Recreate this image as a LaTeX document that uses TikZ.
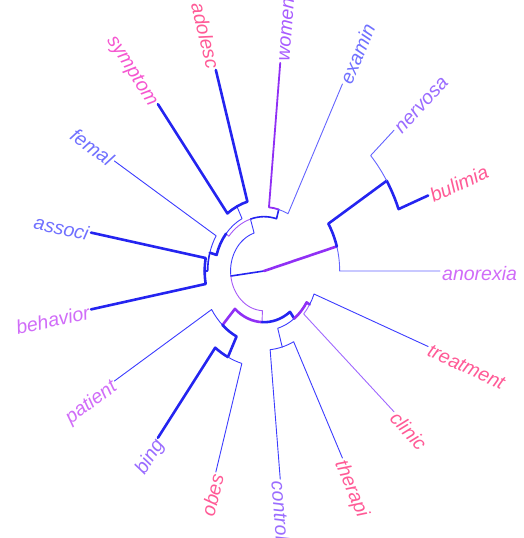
\documentclass[tikz,border=0pt]{standalone}
\usepackage{fontspec}
\setmainfont{Liberation Sans}

% store angle/radius of a tree node and place a named coordinate there
\newcommand\setnode[3]{%
  \expandafter\edef\csname nodeang#1\endcsname{#2}%
  \expandafter\edef\csname noderad#1\endcsname{#3}%
  \coordinate (#1) at (#2:#3);}

% inner node: angle is the mean of its two children
\newcommand\joinnode[4]{%
  \pgfmathsetmacro\tmpang{(\csname nodeang#2\endcsname+\csname nodeang#3\endcsname)/2}%
  \setnode{#1}{\tmpang}{#4}}

% fan edge: arc at the parent radius, then radial segment to the child
\newcommand\linkto[3]{%
  \pgfmathsetmacro\pa{\csname nodeang#2\endcsname}%
  \pgfmathsetmacro\ca{\csname nodeang#3\endcsname}%
  \pgfmathsetmacro\prx{\csname noderad#2\endcsname*176}%
  \pgfmathsetmacro\pry{\csname noderad#2\endcsname*209}%
  \draw[#1] (#2) arc[start angle=\pa, end angle=\ca, x radius=\prx pt, y radius=\pry pt] -- (#3);}

% tip of the tree with its rotated label
\newcommand\leaf[4]{%
  \pgfmathsetmacro\leafang{#2*360/17}%
  \setnode{#1}{\leafang}{1}%
  \pgfmathsetmacro\labrot{atan2(209*sin(\leafang),176*cos(\leafang))}%
  \pgfmathtruncatemacro\leftside{(\leafang>90)&&(\leafang<270)}%
  \ifnum\leftside=1
    \pgfmathsetmacro\labrot{\labrot+180}%
    \node[leaflabel,text=#4,rotate=\labrot,anchor=north east] (lab#1) at (#1) {#3};%
  \else
    \node[leaflabel,text=#4,rotate=\labrot,anchor=north west] (lab#1) at (#1) {#3};%
  \fi}

\definecolor{cblue}{HTML}{2424F0}
\definecolor{cthinblue}{HTML}{3C3CFF}
\definecolor{clightblue}{HTML}{6464FF}
\definecolor{cpurple}{HTML}{9030F5}
\definecolor{clilac}{HTML}{A068FF}

\definecolor{lviolet}{HTML}{D06CF8}
\definecolor{lpink}{HTML}{FF5A96}
\definecolor{lmagenta}{HTML}{F556D0}
\definecolor{llavender}{HTML}{9A6CFF}
\definecolor{lperi}{HTML}{7070FF}
\definecolor{lwomen}{HTML}{A85CFF}

\tikzset{
  thickblue/.style={draw=cblue, line width=2.6pt},
  medblue/.style={draw=cblue, line width=1.6pt},
  thinblue/.style={draw=cthinblue, line width=0.9pt},
  lightblue/.style={draw=clightblue, line width=0.9pt},
  thickpurple/.style={draw=cpurple, line width=2.6pt},
  medpurple/.style={draw=cpurple, line width=1.8pt},
  thinpurple/.style={draw=cpurple!80, line width=0.9pt},
  lilac/.style={draw=clilac, line width=0.9pt},
  leaflabel/.style={font=\fontsize{19.5}{20}\selectfont\itshape,
    inner xsep=2pt, inner ysep=0pt, text height=8.8pt, text depth=6pt}
}

\begin{document}
\begin{tikzpicture}[x={(176pt,0pt)}, y={(0pt,209pt)}, line cap=round, line join=round]
\useasboundingbox (-264pt,-267pt) rectangle (260pt,271pt);
\clip (-264pt,-267pt) rectangle (260pt,271pt);

% tips
\leaf{anorexia}{0}{anorexia}{lviolet}
\leaf{bulimia}{1}{bulimia}{lpink}
\leaf{nervosa}{2}{nervosa}{llavender}
\leaf{examin}{3}{examin}{lperi}
\leaf{women}{4}{women}{lwomen}
\leaf{adolesc}{5}{adolesc}{lpink}
\leaf{symptom}{6}{symptom}{lmagenta}
\leaf{femal}{7}{femal}{lperi}
\leaf{associ}{8}{associ}{lperi}
\leaf{behavior}{9}{behavior}{lviolet}
\leaf{patient}{10}{patient}{lviolet}
\leaf{bing}{11}{bing}{llavender}
\leaf{obes}{12}{obes}{lpink}
\leaf{control}{13}{control}{llavender}
\leaf{therapi}{14}{therapi}{lpink}
\leaf{clinic}{15}{clinic}{lpink}
\leaf{treatment}{16}{treatment}{lpink}

% inner nodes
\joinnode{nAB}{bulimia}{nervosa}{0.82}
\joinnode{nA}{anorexia}{nAB}{0.43}
\joinnode{nWE}{examin}{women}{0.306}
\joinnode{nSA}{adolesc}{symptom}{0.345}
\joinnode{nAsBe}{associ}{behavior}{0.337}
\joinnode{nFA}{femal}{nAsBe}{0.32}
\joinnode{nP}{nSA}{nFA}{0.28}
\joinnode{nN1}{nWE}{nP}{0.26}
\joinnode{nN4}{bing}{obes}{0.46}
\joinnode{nN3}{patient}{nN4}{0.35}
\joinnode{nN5}{control}{therapi}{0.378}
\joinnode{nN8}{clinic}{treatment}{0.305}
\joinnode{nN7}{nN5}{nN8}{0.285}
\joinnode{nN2}{nN3}{nN7}{0.245}
\joinnode{nB}{nN1}{nN2}{0.19}
\setnode{root}{0}{0}

% edges
\draw[medblue] (root) -- (nB);
\draw[thickpurple] (root) -- (nA);
\linkto{lightblue}{nA}{anorexia}
\linkto{thickblue}{nA}{nAB}
\linkto{thickblue}{nAB}{bulimia}
\linkto{lightblue}{nAB}{nervosa}
\linkto{thinblue}{nB}{nN1}
\linkto{thinpurple}{nB}{nN2}
\linkto{medblue}{nN1}{nWE}
\linkto{thinpurple}{nN1}{nP}
\linkto{medpurple}{nWE}{women}
\linkto{lightblue}{nWE}{examin}
\linkto{thinblue}{nP}{nSA}
\linkto{thickblue}{nP}{nFA}
\linkto{thickblue}{nSA}{adolesc}
\linkto{thickblue}{nSA}{symptom}
\linkto{thinblue}{nFA}{femal}
\linkto{medblue}{nFA}{nAsBe}
\linkto{thickblue}{nAsBe}{associ}
\linkto{thickblue}{nAsBe}{behavior}
\linkto{thickpurple}{nN2}{nN3}
\linkto{thickblue}{nN2}{nN7}
\linkto{thinblue}{nN3}{patient}
\linkto{thickblue}{nN3}{nN4}
\linkto{thickblue}{nN4}{bing}
\linkto{thinblue}{nN4}{obes}
\linkto{thinblue}{nN7}{nN5}
\linkto{thickpurple}{nN7}{nN8}
\linkto{thinblue}{nN5}{control}
\linkto{thinblue}{nN5}{therapi}
\linkto{lilac}{nN8}{clinic}
\linkto{thinblue}{nN8}{treatment}
\end{tikzpicture}
\end{document}
